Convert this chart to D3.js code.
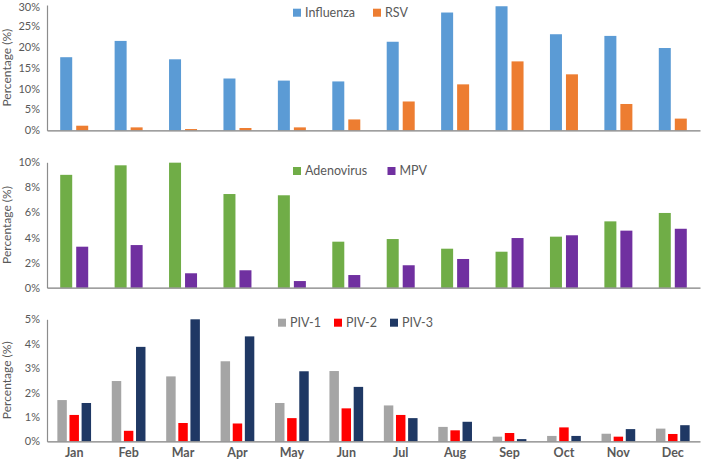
<!DOCTYPE html>
<html>
<head>
<meta charset="utf-8">
<script src="https://cdn.jsdelivr.net/npm/d3@7"></script>
<style>
  html, body { margin: 0; padding: 0; background: #fff; }
  svg { display: block; font-family: Lato, "Open Sans", sans-serif; }
</style>
</head>
<body>
<svg id="chart" width="709" height="461"></svg>
<script>
const months = ["Jan","Feb","Mar","Apr","May","Jun","Jul","Aug","Sep","Oct","Nov","Dec"];

const influenza = [17.5, 21.4, 17.0, 12.4, 11.9, 11.7, 21.2, 28.2, 29.7, 23.0, 22.6, 19.7];
const rsv       = [1.1, 0.7, 0.3, 0.55, 0.7, 2.6, 6.9, 11.0, 16.5, 13.4, 6.3, 2.8];

const adenovirus = [9.0, 9.76, 9.97, 7.47, 7.37, 3.67, 3.88, 3.11, 2.87, 4.07, 5.29, 5.96];
const mpv        = [3.27, 3.4, 1.15, 1.39, 0.53, 1.01, 1.79, 2.29, 3.96, 4.18, 4.55, 4.7];

const piv1 = [1.69, 2.47, 2.66, 3.28, 1.57, 2.88, 1.47, 0.59, 0.19, 0.22, 0.31, 0.52];
const piv2 = [1.08, 0.43, 0.75, 0.73, 0.95, 1.35, 1.08, 0.45, 0.34, 0.57, 0.19, 0.30];
const piv3 = [1.57, 3.87, 5.0, 4.3, 2.87, 2.23, 0.95, 0.8, 0.09, 0.22, 0.5, 0.66];

const ticksTop = [0, 5, 10, 15, 20, 25, 30];
const ticksMid = [0, 2, 4, 6, 8, 10];
const ticksBot = [0, 1, 2, 3, 4, 5];

const panels = [
  { top: 5,     bottom: 130.3, max: 30, ticks: ticksTop,
    series: [{name: "Influenza", values: influenza, color: "#5B9BD5"},
             {name: "RSV", values: rsv, color: "#ED7D31"}],
    legendX: [293, 373], legendY: 12.7, groupW: 28, pad: 0.25, showMonths: false },
  { top: 162.3, bottom: 287.7, max: 10, ticks: ticksMid,
    series: [{name: "Adenovirus", values: adenovirus, color: "#70AD47"},
             {name: "MPV", values: mpv, color: "#7030A0"}],
    legendX: [293, 387.5], legendY: 171, groupW: 28, pad: 0.25, showMonths: false },
  { top: 319.3, bottom: 441.3, max: 5, ticks: ticksBot,
    series: [{name: "PIV-1", values: piv1, color: "#A5A5A5"},
             {name: "PIV-2", values: piv2, color: "#FF0000"},
             {name: "PIV-3", values: piv3, color: "#1F3864"}],
    legendX: [278, 334, 390], legendY: 322.7, groupW: 33.7, pad: 0.22, showMonths: true }
];

const svg = d3.select("#chart");
const x = d3.scaleBand().domain(months).range([47, 700]).padding(0);

panels.forEach(p => {
  const g = svg.append("g");
  const y = d3.scaleLinear().domain([0, p.max]).range([p.bottom, p.top]);
  const names = p.series.map(s => s.name);
  const xs = d3.scaleBand().domain(names)
      .range([-p.groupW / 2, p.groupW / 2]).paddingInner(p.pad).paddingOuter(0);

  // bars
  p.series.forEach(s => {
    g.append("g").selectAll("rect").data(months.map((m, i) => ({m, v: s.values[i]})))
      .join("rect")
      .attr("x", d => x(d.m) + x.bandwidth() / 2 + xs(s.name))
      .attr("width", xs.bandwidth())
      .attr("y", d => y(d.v))
      .attr("height", d => y(0) - y(d.v))
      .attr("fill", s.color);
  });

  // y axis
  const yAxis = d3.axisLeft(y).tickValues(p.ticks).tickSize(0).tickPadding(7)
      .tickFormat(d => d + "%");
  const ya = g.append("g").attr("transform", "translate(47,0)").call(yAxis);
  ya.select(".domain").attr("stroke", "#8c8c8c").attr("stroke-width", 1.2);
  ya.selectAll("text").attr("fill", "#595959").attr("font-size", 11)
    .attr("font-family", "Lato, sans-serif");
  if (p.max === 30) {
    ya.selectAll(".tick").filter(d => d === 30).select("text").attr("dy", "0.5em");
  }

  // x axis baseline
  const xAxis = d3.axisBottom(x).tickSize(0).tickPadding(7);
  const xa = g.append("g").attr("transform", `translate(0,${p.bottom})`).call(xAxis);
  xa.select(".domain").attr("stroke", "#7f7f7f").attr("stroke-width", 1.2);
  if (p.showMonths) {
    xa.selectAll("text").attr("fill", "#595959").attr("font-size", 12.5)
      .attr("font-weight", "bold").attr("font-family", "Lato, sans-serif");
  } else {
    xa.selectAll("text").remove();
  }

  // y axis title
  g.append("text")
    .attr("transform", `translate(11,${(p.top + p.bottom) / 2}) rotate(-90)`)
    .attr("text-anchor", "middle")
    .attr("fill", "#595959")
    .attr("font-size", 12)
    .text("Percentage (%)");

  // legend
  p.series.forEach((s, i) => {
    const lx = p.legendX[i];
    g.append("rect").attr("x", lx).attr("y", p.legendY - 4).attr("width", 8).attr("height", 8)
      .attr("fill", s.color);
    g.append("text").attr("x", lx + 12).attr("y", p.legendY).attr("dy", "0.35em")
      .attr("fill", "#595959").attr("font-size", 12.5).text(s.name);
  });
});
</script>
</body>
</html>
